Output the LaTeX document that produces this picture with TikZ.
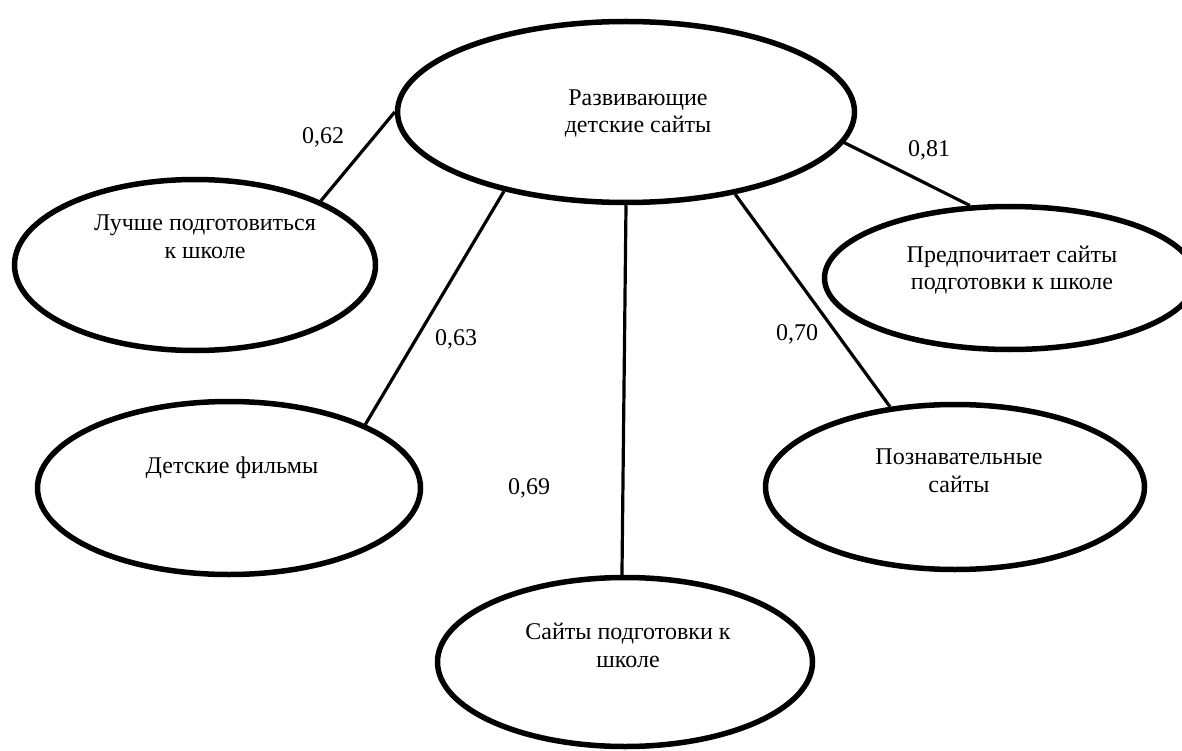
\documentclass[tikz,border=0pt]{standalone}
\usepackage{fontspec}
\setmainfont{Liberation Serif}
\usetikzlibrary{shapes.geometric}
\tikzset{
  oval/.style={ellipse, draw=black, line width=5.5pt, fill=white, inner sep=0pt},
  txt/.style={font=\fontsize{24}{27.5}\selectfont, align=center, inner sep=0pt},
  num/.style={font=\fontsize{24}{27.5}\selectfont, inner sep=0pt},
  link/.style={draw=black, line width=3.2pt}
}
\begin{document}
\begin{tikzpicture}[x=1pt,y=-1pt]
\useasboundingbox (0,0) rectangle (1182,751);
\clip (0,0) rectangle (1182,751);
\fill[white] (0,0) rectangle (1182,751);
% ellipses
\node[oval, minimum width=457pt, minimum height=181pt] (c) at (626,112) {};
\node[oval, minimum width=361pt, minimum height=171pt] (a) at (195,265) {};
\node[oval, minimum width=383pt, minimum height=173pt] (b) at (229,488) {};
\node[oval, minimum width=375pt, minimum height=169pt] (d) at (625,662) {};
\node[oval, minimum width=379pt, minimum height=165pt] (e) at (955,487) {};
\node[oval, minimum width=371pt, minimum height=143pt] (f) at (1010,278) {};
% connectors
\draw[link] (c.180) -- (a.27);
\draw[link] (c.213.8) -- (b.25.5);
\draw[link] (c.270) -- (d.92);
\draw[link] (c.323.5) -- (e.129.3);
\draw[link] (c.352.3) -- (f.119.9);
% texts
\node[txt] (tc) at (638,113.5) {Развивающие\\детские сайты};
\node[txt] (ta) at (205,237) {Лучше подготовиться\\к школе};
\node[txt] (tb) at (232,467.5) {Детские фильмы};
\node[txt] (td) at (628,645.5) {Сайты подготовки к\\школе};
\node[txt] (te) at (959,471) {Познавательные\\сайты};
\node[txt] (tf) at (1012,270) {Предпочитает сайты\\подготовки к школе};
% labels
\node[num] (l1) at (323,137) {0,62};
\node[num] (l2) at (456,339) {0,63};
\node[num] (l3) at (529,488) {0,69};
\node[num] (l4) at (797,334) {0,70};
\node[num] (l5) at (929,150) {0,81};
\end{tikzpicture}
\end{document}
